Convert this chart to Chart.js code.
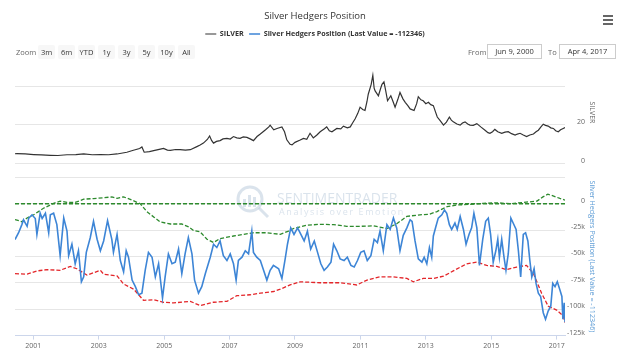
<!DOCTYPE html>
<html>
<head>
<meta charset="utf-8">
<script src="https://cdn.jsdelivr.net/npm/chart.js@4/dist/chart.umd.min.js"></script>
<style>
  body { margin: 0; background: #fff; font-family: 'Open Sans', sans-serif; }
  #wrap { position: relative; width: 630px; height: 360px; }
  #c { position: absolute; left: 0; top: 0; }
  .rs { position: absolute; font-size: 7.5px; color: #666; line-height: 14px; }
  .btn { display: inline-block; width: 17px; margin-right: 3px; text-align: center; background: #f7f7f7; color: #333; border-radius: 2px; }
  .box { display: inline-block; border: 1px solid #ccc; text-align: center; color: #333; height: 13px; line-height: 13px; }
  #menu { position: absolute; left: 603px; top: 15px; width: 10px; }
  #menu div { height: 2px; background: #666; margin-bottom: 2px; }
</style>
</head>
<body>
<div id="wrap">
  <canvas id="c" width="630" height="360"></canvas>
  <div id="menu"><div></div><div></div><div></div></div>
  <div class="rs" style="left:16px; top:45px;">Zoom</div>
  <div class="rs" style="left:38px; top:45px;">
    <span class="btn">3m</span><span class="btn">6m</span><span class="btn">YTD</span><span class="btn">1y</span><span class="btn">3y</span><span class="btn">5y</span><span class="btn">10y</span><span class="btn">All</span>
  </div>
  <div class="rs" style="left:468px; top:45px;">From</div>
  <div class="rs" style="left:487px; top:44px;"><span class="box" style="width:53px;">Jun 9, 2000</span></div>
  <div class="rs" style="left:548px; top:45px;">To</div>
  <div class="rs" style="left:559px; top:44px;"><span class="box" style="width:55px;">Apr 4, 2017</span></div>
</div>
<script>
// --- data (x = decimal year) ---
const silverDates = [2000.44,2000.50,2000.75,2001.01,2001.25,2001.52,2001.75,2002.03,2002.30,2002.54,2002.80,2003.05,2003.30,2003.56,2003.86,2004.06,2004.25,2004.32,2004.39,2004.55,2004.68,2004.85,2004.98,2005.10,2005.19,2005.35,2005.49,2005.65,2005.80,2006.00,2006.10,2006.20,2006.32,2006.39,2006.45,2006.51,2006.60,2006.71,2006.80,2006.92,2007.02,2007.12,2007.22,2007.32,2007.42,2007.53,2007.63,2007.73,2007.84,2007.94,2008.10,2008.20,2008.24,2008.35,2008.45,2008.60,2008.68,2008.75,2008.85,2008.91,2009.00,2009.16,2009.26,2009.36,2009.46,2009.56,2009.67,2009.77,2009.90,2009.97,2010.05,2010.13,2010.28,2010.40,2010.48,2010.60,2010.69,2010.76,2010.84,2010.92,2010.99,2011.07,2011.14,2011.20,2011.24,2011.33,2011.38,2011.42,2011.45,2011.55,2011.62,2011.66,2011.72,2011.77,2011.83,2011.93,2012.00,2012.06,2012.14,2012.21,2012.30,2012.37,2012.45,2012.52,2012.64,2012.72,2012.77,2012.85,2012.92,2013.00,2013.08,2013.15,2013.23,2013.29,2013.35,2013.45,2013.54,2013.63,2013.72,2013.78,2013.84,2013.95,2014.05,2014.12,2014.20,2014.28,2014.35,2014.45,2014.56,2014.68,2014.81,2014.90,2014.96,2015.04,2015.11,2015.20,2015.32,2015.42,2015.52,2015.62,2015.73,2015.80,2015.88,2015.98,2016.08,2016.18,2016.29,2016.37,2016.44,2016.52,2016.59,2016.66,2016.74,2016.82,2016.90,2016.97,2017.05,2017.12,2017.20,2017.255];
const silverValues = [5.1,5.2,5.0,4.7,4.5,4.3,4.2,4.6,4.7,5.0,4.6,4.7,4.6,5.0,5.9,6.9,7.8,8.6,5.9,6.2,6.7,7.4,7.9,7.0,6.9,7.3,7.2,7.0,7.2,8.8,9.6,10.6,12.5,14.3,12.0,10.6,11.5,11.9,12.8,13.1,12.7,14.0,13.3,13.1,13.8,13.6,12.8,11.9,14.0,15.3,17.5,19.0,19.9,17.5,18.2,19.0,16.5,12.3,10.0,9.7,11.0,12.2,13.0,12.6,15.7,13.3,14.8,16.5,18.0,19.0,17.0,16.5,18.2,18.0,19.4,18.5,19.0,21.0,23.2,26.0,29.2,28.0,27.5,32.0,35.9,41.0,45.7,39.0,37.6,35.1,39.0,41.0,42.3,38.0,32.5,35.1,32.0,29.2,33.0,36.8,33.5,31.7,30.0,28.3,27.5,31.0,34.6,33.0,32.5,31.0,31.7,30.5,30.0,27.0,24.1,22.0,19.9,21.5,24.1,22.5,21.6,20.5,19.9,21.0,21.6,20.5,19.9,19.8,20.7,19.0,17.3,16.0,15.7,16.5,17.7,16.5,15.7,16.3,16.5,15.5,14.8,15.3,15.7,14.8,14.0,14.8,15.3,16.5,17.3,19.0,20.4,19.8,19.4,18.5,18.2,17.0,16.5,17.5,18.2,18.7];

// hedgers net position, thousands of contracts
const hedgerDates = [2000.44,2000.55,2000.65,2000.70,2000.81,2000.86,2000.96,2001.06,2001.11,2001.21,2001.27,2001.37,2001.47,2001.52,2001.62,2001.72,2001.82,2001.93,2002.03,2002.08,2002.18,2002.28,2002.38,2002.47,2002.54,2002.62,2002.74,2002.84,2002.95,2003.05,2003.15,2003.27,2003.40,2003.45,2003.56,2003.66,2003.76,2003.84,2003.91,2004.02,2004.12,2004.22,2004.32,2004.42,2004.52,2004.63,2004.73,2004.83,2004.95,2005.03,2005.13,2005.24,2005.34,2005.44,2005.54,2005.64,2005.74,2005.85,2005.93,2006.05,2006.15,2006.26,2006.41,2006.51,2006.61,2006.71,2006.81,2006.92,2007.02,2007.12,2007.20,2007.27,2007.38,2007.48,2007.58,2007.68,2007.73,2007.83,2007.94,2008.04,2008.14,2008.24,2008.34,2008.50,2008.60,2008.70,2008.77,2008.87,2008.97,2009.08,2009.18,2009.28,2009.38,2009.48,2009.59,2009.69,2009.79,2009.89,2009.99,2010.10,2010.18,2010.28,2010.38,2010.50,2010.60,2010.71,2010.81,2010.91,2011.01,2011.11,2011.21,2011.32,2011.42,2011.52,2011.60,2011.70,2011.81,2011.91,2012.01,2012.11,2012.21,2012.31,2012.42,2012.52,2012.58,2012.67,2012.77,2012.88,2012.95,2013.03,2013.11,2013.18,2013.23,2013.31,2013.38,2013.49,2013.57,2013.64,2013.72,2013.79,2013.89,2013.96,2014.05,2014.15,2014.23,2014.32,2014.40,2014.47,2014.56,2014.64,2014.74,2014.83,2014.91,2014.98,2015.06,2015.14,2015.20,2015.25,2015.32,2015.39,2015.45,2015.52,2015.60,2015.67,2015.76,2015.83,2015.90,2015.98,2016.05,2016.12,2016.18,2016.24,2016.31,2016.37,2016.44,2016.51,2016.59,2016.66,2016.74,2016.82,2016.88,2016.95,2017.02,2017.10,2017.16,2017.19,2017.23,2017.255];
const hedgerValues = [-34,-27.5,-19.8,-15.2,-21.4,-13.6,-10.5,-14,-29.1,-9,-14,-9,-27.5,-10.5,-9,-19.8,-49.2,-13.6,-26,-49.2,-38.4,-56.9,-44.6,-74,-69.3,-46.1,-32.2,-16.7,-33.7,-44.6,-35.3,-16.1,-33.7,-46.1,-29.1,-53.8,-64.6,-44.6,-50.7,-72.4,-78.6,-86.3,-84.8,-63.1,-46.1,-50.7,-69.3,-56.9,-89.4,-69.3,-47.6,-56.9,-55.4,-43,-66.2,-47.6,-32.2,-47.6,-72.4,-84.8,-78.6,-66.2,-50.7,-38.4,-41.5,-35.3,-49.2,-53.8,-47.6,-56.9,-72.4,-53.8,-50.7,-44.6,-47.6,-26,-46.1,-50.7,-53.8,-63.1,-72.4,-63.1,-58.5,-61.6,-70.8,-52.3,-38.4,-22.9,-29.1,-22.9,-29.1,-35.3,-26,-43,-35.3,-46.1,-56.9,-63.1,-60,-55.4,-38.4,-44.6,-52.3,-53.8,-50.7,-58.5,-60,-53.8,-46.1,-44.6,-53.8,-49.2,-33.7,-36.8,-26,-44.6,-19.8,-24.4,-13.6,-22.9,-44.6,-30,-22.9,-15.2,-16.7,-35.3,-52.3,-55.4,-50.7,-56.9,-41.5,-50.7,-30.6,-21.4,-13.6,-10.5,-5.9,-9,-19.8,-24.4,-18.3,-24.4,-12.1,-24.4,-38.4,-29.1,-22.9,-9,-22.9,-58.5,-33.7,-16.7,-13.6,-29.1,-55.4,-44.6,-33.7,-50.7,-33.7,-50.7,-63.1,-47.6,-13.6,-18.3,-24.4,-44.6,-69.3,-29.1,-27.5,-35.3,-53.8,-69.3,-61.6,-75.5,-84.8,-87.9,-103.3,-109.5,-101.8,-97.1,-75.5,-78.6,-73.9,-81.7,-87.9,-109.5,-94,-112.346];

const upperDates = [2000.44,2000.65,2000.81,2001.01,2001.31,2001.62,2001.82,2002.03,2002.28,2002.54,2002.84,2003.15,2003.40,2003.56,2003.76,2004.02,2004.27,2004.47,2004.70,2004.88,2005.19,2005.54,2005.75,2005.90,2006.10,2006.31,2006.51,2006.71,2007.12,2007.43,2007.73,2008.14,2008.55,2008.80,2008.95,2009.36,2009.77,2010.18,2010.58,2010.99,2011.40,2011.81,2012.11,2012.42,2012.82,2013.10,2013.34,2013.65,2013.95,2014.35,2014.75,2015.18,2015.58,2015.97,2016.40,2016.58,2016.73,2016.89,2017.10,2017.255];
const upperValues = [-15,-17,-13.5,-10.5,-4.3,0.3,2.5,1.2,1.2,4.3,4.9,5.6,6.5,5,6.5,3.4,0,-7.4,-13,-17.3,-19.2,-19.2,-22,-25.4,-26.6,-33.7,-36.8,-33,-30.6,-29,-27.5,-27.5,-29,-26,-23.5,-20.4,-19.5,-19.8,-21.4,-21.4,-21,-23.5,-19,-12,-10.5,-10,-7.4,-2.8,-1.2,-0.6,0.3,0.9,0,1.2,2.5,6.5,9,7.4,5,3.4];

const lowerDates = [2000.44,2000.81,2001.11,2001.42,2001.82,2002.13,2002.33,2002.64,2003.05,2003.15,2003.56,2003.76,2004.07,2004.37,2004.68,2004.98,2005.29,2005.80,2006.10,2006.51,2006.92,2007.22,2007.63,2007.94,2008.34,2008.55,2008.85,2009.16,2009.77,2010.38,2010.89,2011.20,2011.60,2012.01,2012.42,2012.62,2012.92,2013.23,2013.54,2013.84,2014.25,2014.56,2014.86,2015.17,2015.47,2015.78,2016.08,2016.29,2016.54,2016.74,2017.00,2017.20,2017.255];
const lowerValues = [-66.2,-66.8,-63.7,-62.5,-63.1,-59.4,-61.6,-67.7,-63.1,-66.8,-68.4,-76.1,-81,-91.6,-91,-93.4,-94,-92.5,-96.5,-93.4,-92.5,-87.2,-86.3,-84.8,-83.2,-81,-77,-74,-74.9,-74.9,-77,-72.4,-69.3,-69.3,-70.8,-74,-70.8,-70.8,-68.7,-63.7,-56.9,-55.4,-58.5,-59.4,-62.5,-60,-58.5,-66.2,-84.8,-97.1,-100.8,-106.4,-112.6];

const zeroLineDates = [2000.44, 2017.255];
const zeroLineValues = [0, 0];

const xTicks = [2001, 2003, 2005, 2007, 2009, 2011, 2013, 2015, 2017];
const silverTicks = [0, 20, 40];
const hedgerTicks = [-125, -100, -75, -50, -25, 0, 25];

const pts = (xs, ys) => xs.map((x, i) => ({ x, y: ys[i] }));
const FONT = "'Open Sans', sans-serif";

// faint watermark behind the lines
const watermark = {
  id: 'watermark',
  beforeDatasetsDraw(chart) {
    const ctx = chart.ctx;
    ctx.save();
    ctx.strokeStyle = 'rgba(150,175,200,0.35)';
    ctx.fillStyle = 'rgba(150,175,200,0.35)';
    ctx.lineWidth = 3;
    ctx.beginPath();
    ctx.arc(250, 199, 12, 0, Math.PI * 2);
    ctx.stroke();
    ctx.beginPath();
    ctx.moveTo(259, 208);
    ctx.lineTo(268, 217);
    ctx.stroke();
    ctx.fillRect(243, 199, 3, 8);
    ctx.fillRect(248, 195, 3, 12);
    ctx.fillRect(253, 197, 3, 10);
    ctx.font = '14px ' + FONT;
    ctx.textBaseline = 'middle';
    ctx.fillText('SENTIMENTRADER', 277, 199);
    ctx.font = '9px ' + FONT;
    if ('letterSpacing' in ctx) ctx.letterSpacing = '1.6px';
    ctx.fillText('Analysis over Emotion', 279, 212);
    ctx.restore();
  }
};

new Chart(document.getElementById('c'), {
  type: 'line',
  data: {
    datasets: [
      { label: 'SILVER', data: pts(silverDates, silverValues), yAxisID: 'ySilver',
        borderColor: '#333', backgroundColor: '#333', borderWidth: 1.2, pointRadius: 0 },
      { label: 'Silver Hedgers Position (Last Value = -112346)', data: pts(hedgerDates, hedgerValues), yAxisID: 'yHedgers',
        borderColor: '#3d85d6', backgroundColor: '#3d85d6', borderWidth: 1.6, pointRadius: 0 },
      { label: 'upper', data: pts(upperDates, upperValues), yAxisID: 'yHedgers',
        borderColor: '#2d8a2d', borderWidth: 1.3, borderDash: [4, 2], pointRadius: 0 },
      { label: 'lower', data: pts(lowerDates, lowerValues), yAxisID: 'yHedgers',
        borderColor: '#e3262a', borderWidth: 1.3, borderDash: [4, 2], pointRadius: 0 },
      { label: 'zero', data: pts(zeroLineDates, zeroLineValues), yAxisID: 'yHedgers',
        borderColor: '#2d8a2d', borderWidth: 1.3, borderDash: [4, 2], pointRadius: 0 }
    ]
  },
  options: {
    responsive: false,
    animation: false,
    devicePixelRatio: 1,
    layout: { padding: { left: 15, right: 15, bottom: 8 } },
    plugins: {
      tooltip: { enabled: false },
      title: {
        display: true, text: 'Silver Hedgers Position', color: '#333',
        font: { family: FONT, size: 9.5, weight: 'normal' }, padding: { top: 10.3, bottom: 3.3 }
      },
      legend: {
        labels: {
          filter: item => item.datasetIndex < 2,
          usePointStyle: true, pointStyle: 'line', pointStyleWidth: 11,
          color: '#333', font: { family: FONT, size: 7.2, weight: 'bold' }, padding: 5.4
        }
      }
    },
    scales: {
      x: {
        type: 'linear', min: 2000.44, max: 2017.255,
        afterBuildTicks: s => { s.ticks = xTicks.map(v => ({ value: v })); },
        ticks: { callback: v => String(v), color: '#666', font: { family: FONT, size: 7 }, padding: 2, maxRotation: 0 },
        grid: { drawOnChartArea: false, tickLength: 4, tickColor: '#ccd6eb' },
        border: { color: '#ccd6eb' }
      },
      ySilver: {
        type: 'linear', position: 'right', stack: 'panes', stackWeight: 132.5,
        min: -7.09, max: 60,
        afterBuildTicks: s => { s.ticks = silverTicks.map(v => ({ value: v })); },
        afterFit: s => { s.width = 20; },
        ticks: { crossAlign: 'far', padding: 3, labelOffset: -3, color: '#666', font: { family: FONT, size: 7 },
                 callback: v => (v === 40 ? '' : String(v)) },
        grid: { color: '#e6e6e6', drawTicks: false },
        border: { display: false },
        title: { display: true, text: 'SILVER', color: '#666', font: { family: FONT, size: 7 },
                 padding: { top: -11.5, bottom: 0 } }
      },
      yHedgers: {
        type: 'linear', position: 'right', stack: 'panes', stackWeight: 161.6,
        min: -125, max: 25,
        afterBuildTicks: s => { s.ticks = hedgerTicks.map(v => ({ value: v })); },
        afterFit: s => { s.width = 20; },
        ticks: { crossAlign: 'far', padding: 3, labelOffset: -3, color: '#666', font: { family: FONT, size: 7 },
                 callback: v => (v === 25 ? '' : v === 0 ? '0' : v + 'k') },
        grid: { color: '#e6e6e6', drawTicks: false },
        border: { display: false },
        title: { display: true, text: 'Silver Hedgers Position (Last Value = -112346)', color: '#5b9bd5',
                 font: { family: FONT, size: 7.2 }, padding: { top: -11.5, bottom: 0 } }
      },
      // empty outer column that keeps room for the axis titles
      yGutter: {
        type: 'linear', position: 'right', weight: 10,
        afterFit: s => { s.width = 30; },
        ticks: { display: false }, grid: { display: false }, border: { display: false }
      }
    }
  },
  plugins: [watermark]
});
</script>
</body>
</html>
